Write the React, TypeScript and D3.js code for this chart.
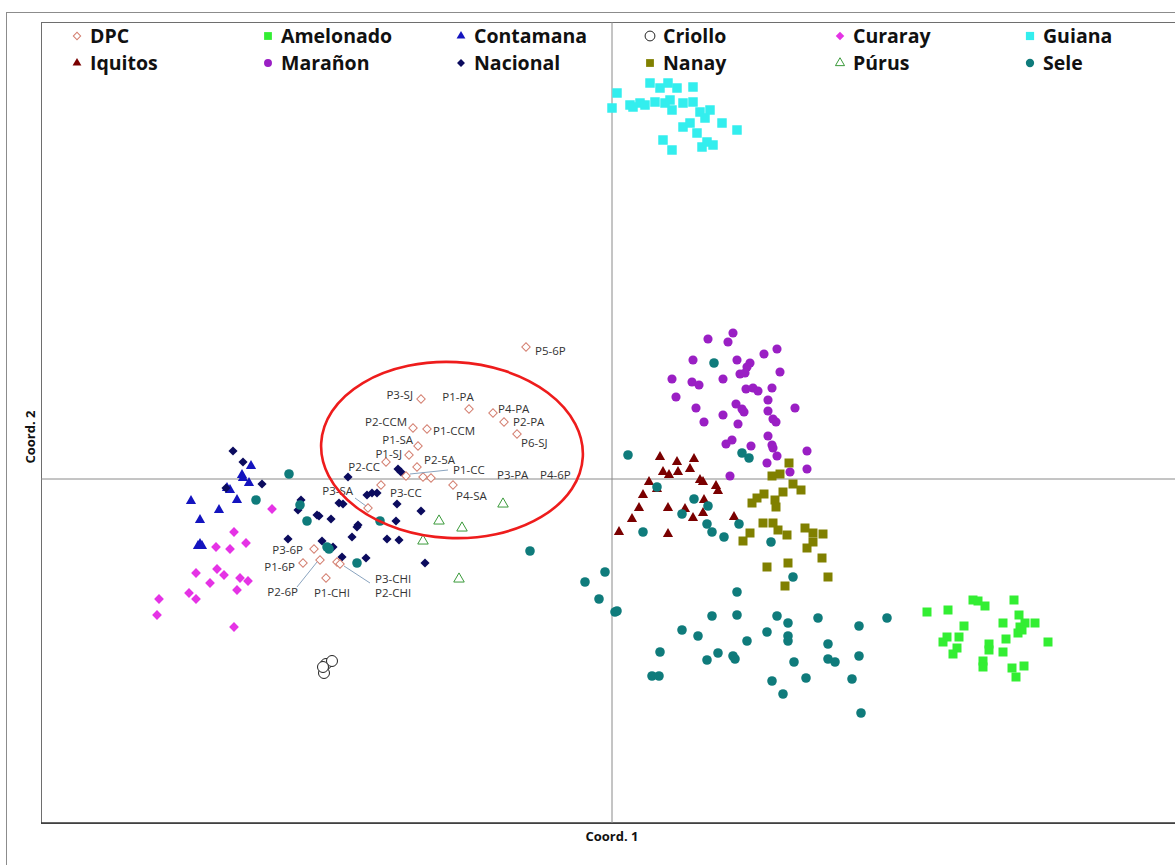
import React, { useEffect, useRef } from "react";
import * as d3 from "d3";

const W = 1175;
const H = 865;

// PCoA coordinates (coord 1, coord 2)
const dpcNames = [
  "P5-6P", "P3-SJ", "P1-PA", "P4-PA", "P2-PA", "P6-SJ", "P2-CCM", "P1-CCM",
  "P1-SA", "P1-SJ", "P2-CC", "P2-5A", "P1-CC", "P3-PA", "P4-6P", "P4-SA",
  "P3-CC", "P3-SA", "P3-6P", "P1-6P", "P2-6P", "P1-CHI", "P3-CHI", "P2-CHI",
];
const dpc = [
  [-0.86, 1.32], [-1.91, 0.8], [-1.43, 0.7], [-1.19, 0.66], [-1.08, 0.57], [-0.95, 0.45],
  [-1.99, 0.51], [-1.85, 0.5], [-1.94, 0.33], [-2.03, 0.24], [-2.26, 0.17], [-1.95, 0.12],
  [-2.06, 0.03], [-1.89, 0.02], [-1.81, 0.01], [-1.59, -0.06], [-2.31, -0.06], [-2.44, -0.29],
  [-2.98, -0.7], [-3.09, -0.84], [-2.92, -0.81], [-2.86, -0.99], [-2.75, -0.83], [-2.72, -0.85],
];
const amelonado = [
  [3.15, -1.33], [3.36, -1.31], [3.61, -1.21], [3.66, -1.22], [3.73, -1.27], [4.02, -1.21],
  [3.52, -1.47], [3.91, -1.44], [4.07, -1.36], [4.13, -1.44], [4.08, -1.48], [4.23, -1.44],
  [4.06, -1.54], [3.35, -1.58], [3.47, -1.58], [3.31, -1.63], [3.45, -1.69], [3.41, -1.75],
  [3.94, -1.6], [3.77, -1.65], [3.77, -1.71], [4.36, -1.63], [3.91, -1.73], [3.71, -1.82],
  [3.71, -1.88], [4.12, -1.87], [4.0, -1.89], [4.04, -1.98], [4.1, -1.51],
];
const contamana = [
  [-3.61, 0.13], [-3.7, 0.04], [-3.69, 0.01], [-3.63, -0.04], [-3.85, -0.09], [-3.82, -0.11],
  [-4.21, -0.22], [-3.93, -0.31], [-3.75, -0.21], [-4.12, -0.41], [-4.12, -0.65], [-4.1, -0.67],
  [-4.14, -0.67],
];
const criollo = [[-2.86, -1.85], [-2.8, -1.82], [-2.88, -1.94], [-2.89, -1.88]];
const curaray = [
  [-3.4, -0.3], [-3.78, -0.53], [-3.66, -0.64], [-3.96, -0.68], [-3.82, -0.7], [-4.16, -0.94],
  [-3.95, -0.9], [-3.88, -0.96], [-4.02, -1.04], [-3.72, -0.99], [-3.64, -1.02], [-3.75, -1.11],
  [-4.23, -1.14], [-4.16, -1.2], [-4.53, -1.2], [-4.55, -1.36], [-3.78, -1.48],
];
const guiana = [
  [0.38, 3.96], [0.56, 3.96], [0.65, 3.91], [0.81, 3.92], [0.05, 3.86], [0.0, 3.71],
  [0.18, 3.74], [0.28, 3.76], [0.43, 3.77], [0.53, 3.76], [0.6, 3.69], [0.71, 3.76],
  [0.81, 3.77], [0.88, 3.67], [0.98, 3.69], [0.93, 3.61], [1.1, 3.56], [1.25, 3.49],
  [0.71, 3.52], [0.78, 3.56], [0.85, 3.46], [0.51, 3.39], [0.6, 3.29], [0.9, 3.32],
  [0.95, 3.37], [1.01, 3.34], [0.58, 3.79], [0.21, 3.72], [0.33, 3.74], [0.48, 3.91],
];
const iquitos = [
  [0.48, 0.22], [0.65, 0.17], [0.82, 0.2], [0.51, 0.07], [0.57, 0.04], [0.66, 0.07],
  [0.78, 0.1], [0.88, -0.01], [0.91, -0.03], [0.37, -0.03], [1.04, -0.07], [1.06, -0.12],
  [0.45, -0.1], [0.31, -0.16], [0.92, -0.21], [0.27, -0.29], [0.56, -0.29], [0.73, -0.3],
  [0.91, -0.34], [0.81, -0.39], [0.2, -0.4], [1.22, -0.38], [0.07, -0.53], [0.56, -0.55],
];
const maranon = [
  [1.21, 1.46], [0.96, 1.4], [1.16, 1.37], [0.81, 1.19], [1.25, 1.19], [1.38, 1.16],
  [1.52, 1.25], [1.65, 1.3], [1.35, 1.12], [1.68, 1.07], [0.6, 1.0], [0.8, 0.97],
  [0.87, 0.94], [1.11, 1.0], [1.28, 1.05], [1.33, 1.06], [1.34, 0.9], [1.41, 0.91],
  [1.46, 0.88], [1.6, 0.91], [0.64, 0.82], [1.56, 0.79], [1.24, 0.75], [1.3, 0.7],
  [1.32, 0.67], [1.56, 0.68], [1.83, 0.71], [0.84, 0.71], [1.11, 0.64], [0.92, 0.57],
  [1.26, 0.55], [1.61, 0.6], [1.64, 0.57], [1.56, 0.43], [1.14, 0.35], [1.2, 0.39],
  [1.39, 0.33], [1.6, 0.34], [1.61, 0.31], [1.65, 0.23], [1.95, 0.28], [1.55, 0.16],
  [1.78, 0.07], [1.95, 0.1], [1.18, 0.03],
];
const nacional = [
  [-3.79, 0.28], [-3.69, 0.17], [-3.5, -0.05], [-3.86, -0.09], [-3.11, -0.21], [-3.14, -0.31],
  [-2.93, -0.37], [-2.81, -0.4], [-2.64, 0.02], [-2.73, -0.24], [-2.69, -0.25], [-2.45, -0.16],
  [-2.4, -0.14], [-2.35, -0.14], [-2.54, -0.46], [-2.55, -0.48], [-2.6, -0.58], [-2.9, -0.62],
  [-3.24, -0.6], [-2.79, -0.68], [-2.7, -0.78], [-2.46, -0.79], [-2.25, -0.6], [-2.16, -0.42],
  [-1.91, -0.32], [-2.15, -0.25], [-1.87, -0.84], [-2.13, -0.61], [-2.14, 0.1], [-2.11, 0.07],
  [-2.95, -0.36],
];
const nanay = [
  [1.77, 0.16], [1.6, 0.03], [1.68, 0.05], [1.81, -0.05], [1.89, -0.11], [1.71, -0.13],
  [1.4, -0.24], [1.45, -0.19], [1.52, -0.15], [1.63, -0.21], [1.64, -0.28], [1.51, -0.44],
  [1.61, -0.44], [1.66, -0.51], [1.75, -0.56], [1.93, -0.49], [2.01, -0.54], [2.11, -0.55],
  [1.38, -0.54], [1.31, -0.62], [2.01, -0.63], [1.95, -0.69], [2.1, -0.79], [1.55, -0.88],
  [1.76, -0.84], [2.16, -0.98], [1.73, -1.07],
];
const purus = [[-1.09, -0.25], [-1.73, -0.42], [-1.5, -0.49], [-1.89, -0.62], [-1.53, -1.0]];
const sele = [
  [1.02, 1.16], [0.16, 0.24], [1.3, 0.26], [1.37, 0.21], [0.45, -0.08], [0.82, -0.2],
  [0.96, -0.27], [0.7, -0.35], [0.31, -0.53], [0.95, -0.45], [1.0, -0.53], [1.12, -0.58],
  [1.27, -0.45], [1.59, -0.63], [1.81, -0.98], [1.25, -1.13], [-0.07, -0.93], [-0.27, -1.03],
  [-0.13, -1.2], [0.03, -1.33], [0.05, -1.32], [1.0, -1.37], [1.25, -1.36], [1.65, -1.37],
  [1.76, -1.44], [2.06, -1.39], [2.47, -1.47], [2.75, -1.39], [0.7, -1.51], [0.86, -1.57],
  [1.35, -1.62], [1.55, -1.53], [1.76, -1.57], [1.76, -1.62], [2.16, -1.65], [0.48, -1.73],
  [1.06, -1.74], [0.95, -1.81], [1.21, -1.77], [1.23, -1.8], [1.82, -1.83], [2.16, -1.8],
  [2.23, -1.83], [2.47, -1.77], [0.4, -1.97], [0.47, -1.97], [1.6, -2.02], [1.94, -1.99],
  [2.4, -2.0], [1.71, -2.15], [2.49, -2.34], [-0.82, -0.72],
  [-3.23, 0.05], [-3.56, -0.21], [-3.12, -0.26], [-3.05, -0.42], [-2.83, -0.7], [-2.85, -0.68],
  [-2.55, -0.84], [-2.32, -0.42],
];

// legend order (two rows of six)
const legendNames = [
  "DPC", "Amelonado", "Contamana", "Criollo", "Curaray", "Guiana",
  "Iquitos", "Marañon", "Nacional", "Nanay", "Púrus", "Sele",
];

const App = () => {
  const svgRef = useRef<SVGSVGElement>(null);

  useEffect(() => {
    const svg = d3.select(svgRef.current);
    svg.selectAll("*").remove();

    const plot = { left: 41, top: 22, right: 1180, bottom: 823 };

    const x = d3.scaleLinear().domain([-5.71, 5.68]).range([plot.left, plot.right]);
    const y = d3.scaleLinear().domain([-3.44, 4.57]).range([plot.bottom, plot.top]);

    const styles: any = {
      DPC: { shape: "diamond", fill: "#ffffff", stroke: "#d47f70", size: 36 },
      Amelonado: { shape: "square", fill: "#33ee33", size: 81 },
      Contamana: { shape: "triangle", fill: "#1414bf", size: 45 },
      Criollo: { shape: "circle", fill: "#ffffff", stroke: "#222222", size: 95 },
      Curaray: { shape: "diamond", fill: "#e533e5", size: 48 },
      Guiana: { shape: "square", fill: "#33eeee", size: 90 },
      Iquitos: { shape: "triangle", fill: "#7a0000", size: 45 },
      Marañon: { shape: "circle", fill: "#9a1fc4", size: 66 },
      Nacional: { shape: "diamond", fill: "#0b0b5e", size: 42 },
      Nanay: { shape: "square", fill: "#808000", size: 81 },
      Púrus: { shape: "triangle", fill: "#ffffff", stroke: "#3a9a3a", size: 48 },
      Sele: { shape: "circle", fill: "#0f7b7b", size: 72 },
    };
    const seriesData: any = {
      DPC: dpc, Amelonado: amelonado, Contamana: contamana, Criollo: criollo,
      Curaray: curaray, Guiana: guiana, Iquitos: iquitos, Marañon: maranon,
      Nacional: nacional, Nanay: nanay, Púrus: purus, Sele: sele,
    };

    const symbolPath = (st: any, scale = 1) => {
      const type =
        st.shape === "circle" ? d3.symbolCircle
        : st.shape === "triangle" ? d3.symbolTriangle
        : d3.symbolSquare;
      return d3.symbol().type(type).size(st.size * scale)();
    };

    const drawMarker = (g: any, st: any, px: number, py: number, scale = 1) => {
      g.append("path")
        .attr("d", symbolPath(st, scale))
        .attr(
          "transform",
          `translate(${px},${py})${st.shape === "diamond" ? " rotate(45)" : ""}`
        )
        .attr("fill", st.fill)
        .attr("stroke", st.stroke || "none")
        .attr("stroke-width", st.stroke ? 1 : 0);
    };

    // outer chart frame
    svg.append("rect")
      .attr("x", 6.5).attr("y", 12.5)
      .attr("width", W + 50).attr("height", H + 50)
      .attr("fill", "none").attr("stroke", "#8c8c8c");

    // plot area frame
    svg.append("rect")
      .attr("x", plot.left + 0.5).attr("y", plot.top + 0.5)
      .attr("width", plot.right - plot.left + 20)
      .attr("height", plot.bottom - plot.top)
      .attr("fill", "#ffffff").attr("stroke", "#6e6e6e");
    svg.append("line")
      .attr("x1", plot.left).attr("x2", W)
      .attr("y1", plot.bottom).attr("y2", plot.bottom)
      .attr("stroke", "#333").attr("stroke-width", 1.5);

    // zero lines
    svg.append("line")
      .attr("x1", x(0)).attr("x2", x(0))
      .attr("y1", plot.top).attr("y2", plot.bottom)
      .attr("stroke", "#8a8a8a");
    svg.append("line")
      .attr("x1", plot.left).attr("x2", W)
      .attr("y1", y(0)).attr("y2", y(0))
      .attr("stroke", "#8a8a8a");

    // points (DPC on top)
    const order = [
      "Amelonado", "Contamana", "Criollo", "Curaray", "Guiana", "Iquitos",
      "Marañon", "Nacional", "Nanay", "Púrus", "Sele", "DPC",
    ];
    const pts = svg.append("g");
    order.forEach((name) => {
      seriesData[name].forEach((d: number[]) => {
        drawMarker(pts, styles[name], x(d[0]), y(d[1]));
      });
    });

    // DPC labels: [dx, dy, anchor, leader start, leader end]
    const labelPlace: any[] = [
      [9, 4, "start"], [-8, -4, "end"], [-11, -12, "middle"], [5, -4, "start"],
      [9, 0, "start"], [4, 9, "start"], [-6, -6, "end"], [6, 2, "start"],
      [-5, -6, "end"], [-7, -1, "end"], [-6, 5, "end"], [7, -7, "start"],
      [47, -6, "start", [4, -2], [42, -6]], [74, -2, "start"], [109, -3, "start"],
      [3, 11, "start"], [9, 8, "start"], [-15, -17, "end", [-2, -2], [-13, -10]],
      [-11, 1, "end"], [-8, 4, "end"], [-22, 32, "end", [-3, 2], [-23, 27]],
      [6, 15, "middle"], [38, 17, "start", [7, 4], [33, 21]], [35, 29, "start"],
    ];
    const lab = svg.append("g");
    dpc.forEach((d, i) => {
      const p = labelPlace[i];
      const px = x(d[0]);
      const py = y(d[1]);
      if (p[3]) {
        lab.append("line")
          .attr("x1", px + p[3][0]).attr("y1", py + p[3][1])
          .attr("x2", px + p[4][0]).attr("y2", py + p[4][1])
          .attr("stroke", "#8aa4bf").attr("stroke-width", 1);
      }
      lab.append("text")
        .attr("x", px + p[0])
        .attr("y", py + p[1])
        .attr("dy", "0.35em")
        .attr("text-anchor", p[2])
        .style("font-family", "'Open Sans', sans-serif")
        .style("font-size", "11.5px")
        .style("fill", "#333")
        .text(dpcNames[i]);
    });

    // highlight ellipse
    const ec = [-1.6, 0.29];
    svg.append("ellipse")
      .attr("cx", x(ec[0])).attr("cy", y(ec[1]))
      .attr("rx", x(ec[0] + 1.31) - x(ec[0]))
      .attr("ry", y(ec[1]) - y(ec[1] + 0.88))
      .attr("transform", `rotate(3,${x(ec[0])},${y(ec[1])})`)
      .attr("fill", "none").attr("stroke", "#ee1c1c").attr("stroke-width", 2.6);

    // legend
    const colX = [77, 268, 461, 650, 840, 1030];
    const rowY = [36, 63];
    const legend = svg.append("g");
    legendNames.forEach((name, i) => {
      const cx = colX[i % 6];
      const cy = rowY[Math.floor(i / 6)];
      drawMarker(legend, styles[name], cx, cy, name === "Criollo" ? 0.8 : 0.75);
      legend.append("text")
        .attr("x", cx + 13)
        .attr("y", cy)
        .attr("dy", "0.36em")
        .style("font-family", "'Open Sans', sans-serif")
        .style("font-size", "19.5px")
        .style("font-weight", "bold")
        .style("fill", "#111")
        .text(name);
    });

    // axis titles
    svg.append("text")
      .attr("x", x(0)).attr("y", 836).attr("dy", "0.35em")
      .attr("text-anchor", "middle")
      .style("font-family", "'Open Sans', sans-serif")
      .style("font-size", "13px").style("font-weight", "bold")
      .style("fill", "#111")
      .text("Coord. 1");
    svg.append("text")
      .attr("transform", "translate(30,437) rotate(-90)")
      .attr("dy", "0.35em")
      .attr("text-anchor", "middle")
      .style("font-family", "'Open Sans', sans-serif")
      .style("font-size", "13px").style("font-weight", "bold")
      .style("fill", "#111")
      .text("Coord. 2");
  }, []);

  return (
    <div style={{ position: "absolute", left: 0, top: 0, width: W, height: H, background: "#fff" }}>
      <svg ref={svgRef} width={W} height={H} style={{ display: "block" }} />
    </div>
  );
};

export default App;
